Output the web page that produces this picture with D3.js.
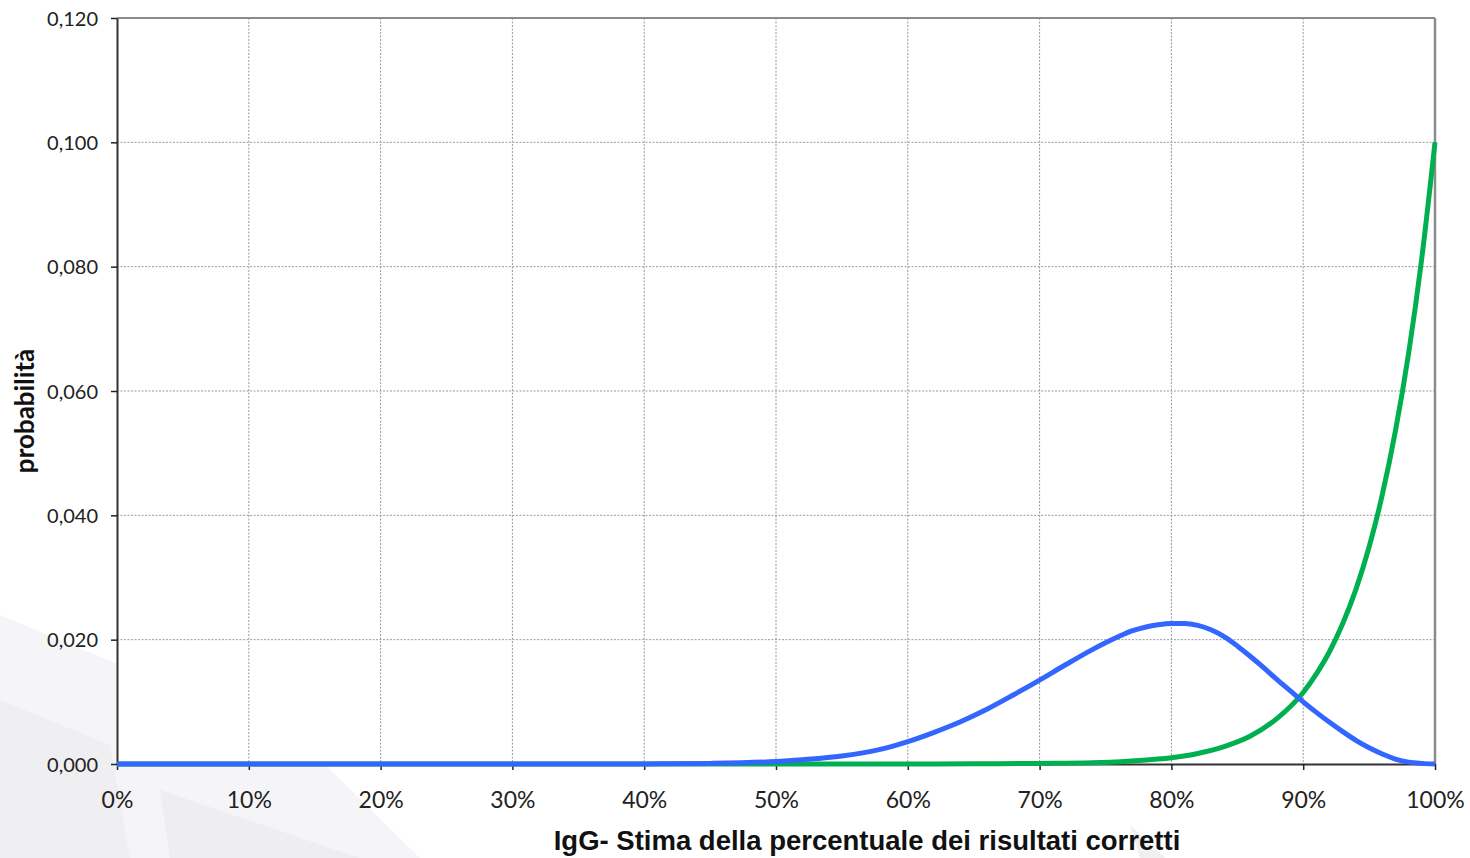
<!DOCTYPE html>
<html>
<head>
<meta charset="utf-8">
<script src="https://cdn.jsdelivr.net/npm/d3@7"></script>
<style>
  html, body { margin: 0; padding: 0; background: #ffffff; }
  svg { display: block; }
</style>
</head>
<body>
<svg id="chart" width="1470" height="858"></svg>
<script>
// ---- Data ----
const xTicks = [0, 10, 20, 30, 40, 50, 60, 70, 80, 90, 100];
const yTicks = [0, 0.02, 0.04, 0.06, 0.08, 0.10, 0.12];

// Blue series: x in %, probability
const blueX = [0, 10, 20, 30, 40, 45, 50, 52, 55, 58, 60, 62, 64, 66, 68, 70, 72, 74, 75, 76, 77, 78, 79, 80, 81, 82, 83, 84, 85, 86, 87, 88, 89, 90, 91, 92, 93, 94, 95, 96, 97, 98, 99, 100];
const blueY = [0, 0, 0, 0, 0.00002, 0.0001, 0.0004, 0.0007, 0.0013, 0.0024, 0.0036, 0.0051, 0.0068, 0.0088, 0.0111, 0.0135, 0.0160, 0.0184, 0.0195, 0.0205, 0.0214, 0.0220, 0.0224, 0.0226, 0.0226, 0.0223, 0.0216, 0.0205, 0.0190, 0.0173, 0.0155, 0.0136, 0.0118, 0.0100, 0.0083, 0.0067, 0.0052, 0.0038, 0.0026, 0.0016, 0.0008, 0.0003, 0.0001, 0];

// Green series
const greenX = [0, 10, 20, 30, 40, 50, 60, 65, 70, 74, 77, 80, 82, 84, 86, 88, 90, 91, 92, 93, 94, 95, 96, 97, 98, 99, 100];
const greenY = [0, 0, 0, 0, 0, 0, 0, 0.00003, 0.0001, 0.0002, 0.0005, 0.0010, 0.0017, 0.0028, 0.0045, 0.0073, 0.0115, 0.0145, 0.0181, 0.0226, 0.0281, 0.0349, 0.0433, 0.0536, 0.0661, 0.0814, 0.1000];

const xLabel = "IgG- Stima della percentuale dei risultati corretti";
const yLabel = "probabilità";

// ---- Layout ----
const svg = d3.select("#chart");
const W = 1470, H = 858;
const m = { left: 117, right: 35, top: 18, bottom: 94 };
const x0 = m.left, x1 = W - m.right, y0 = H - m.bottom, y1 = m.top;

// faint background watermark shapes
const wm = svg.append("g");
wm.append("polygon").attr("points", "0,615 300,740 420,858 0,858").attr("fill", "#f5f5f7");
wm.append("polygon").attr("points", "0,700 110,745 130,858 0,858").attr("fill", "#efeff1");
wm.append("polygon").attr("points", "160,790 360,858 170,858").attr("fill", "#eeeef0");
wm.append("polygon").attr("points", "1130,825 1165,858 1140,858").attr("fill", "#f0f0f2");

const x = d3.scaleLinear().domain([0, 100]).range([x0, x1]);
const y = d3.scaleLinear().domain([0, 0.12]).range([y0, y1]);

// plot background
svg.append("rect").attr("x", x0).attr("y", y1).attr("width", x1 - x0).attr("height", y0 - y1).attr("fill", "#ffffff");

// gridlines
const grid = svg.append("g");
grid.selectAll("line.vg").data(xTicks.filter(d => d > 0 && d < 100)).enter().append("line")
  .attr("x1", d => x(d)).attr("x2", d => x(d)).attr("y1", y1).attr("y2", y0)
  .attr("stroke", "#9a9a9a").attr("stroke-width", 1).attr("stroke-dasharray", "2,1.5");
grid.selectAll("line.hg").data(yTicks.filter(d => d > 0 && d < 0.12)).enter().append("line")
  .attr("x1", x0).attr("x2", x1).attr("y1", d => y(d)).attr("y2", d => y(d))
  .attr("stroke", "#9a9a9a").attr("stroke-width", 1).attr("stroke-dasharray", "2,1.5");

// top and right border
svg.append("line").attr("x1", x0).attr("x2", x1).attr("y1", y1).attr("y2", y1).attr("stroke", "#8c8c8c").attr("stroke-width", 2);
svg.append("line").attr("x1", x1).attr("x2", x1).attr("y1", y1).attr("y2", y0).attr("stroke", "#8c8c8c").attr("stroke-width", 2.5);

// axes
const fmtY = d => d3.format(".3f")(d).replace(".", ",");
const xAxis = d3.axisBottom(x).tickValues(xTicks).tickFormat(d => d + "%").tickSize(6).tickSizeOuter(0);
const yAxis = d3.axisLeft(y).tickValues(yTicks).tickFormat(fmtY).tickSize(6).tickSizeOuter(0);

const gx = svg.append("g").attr("transform", `translate(0,${y0})`).call(xAxis);
const gy = svg.append("g").attr("transform", `translate(${x0},0)`).call(yAxis);
[gx, gy].forEach(g => {
  g.select(".domain").attr("stroke", "#333").attr("stroke-width", 2);
  g.selectAll(".tick line").attr("stroke", "#222").attr("stroke-width", 1.5);
  g.selectAll(".tick text").attr("fill", "#222").style("font-family", "Lato, 'Open Sans', sans-serif");
});
gx.selectAll(".tick text").style("font-size", "23px").attr("dy", "0").attr("y", 44);
gy.selectAll(".tick text").style("font-size", "20px").attr("x", -19).attr("dy", "0.35em");

// lines
const line = d3.line().x(d => x(d[0])).y(d => y(d[1])).curve(d3.curveMonotoneX);
const greenData = greenX.map((v, i) => [v, greenY[i]]);
const blueData = blueX.map((v, i) => [v, blueY[i]]);
svg.append("path").datum(greenData).attr("d", line).attr("fill", "none")
  .attr("stroke", "#00b050").attr("stroke-width", 5).attr("stroke-linejoin", "round");
svg.append("path").datum(blueData).attr("d", line).attr("fill", "none")
  .attr("stroke", "#3366ff").attr("stroke-width", 5).attr("stroke-linejoin", "round");

// axis titles
svg.append("text").attr("x", 867).attr("y", 850).attr("text-anchor", "middle")
  .style("font-family", "'Liberation Sans Narrow', 'Liberation Sans', sans-serif").style("font-weight", "bold").style("font-size", "27.5px")
  .attr("fill", "#111").text(xLabel);
svg.append("text").attr("transform", "translate(34,411) rotate(-90)").attr("text-anchor", "middle")
  .style("font-family", "Lato, sans-serif").style("font-weight", "bold").style("font-size", "26px")
  .attr("fill", "#111").text(yLabel);
</script>
</body>
</html>
